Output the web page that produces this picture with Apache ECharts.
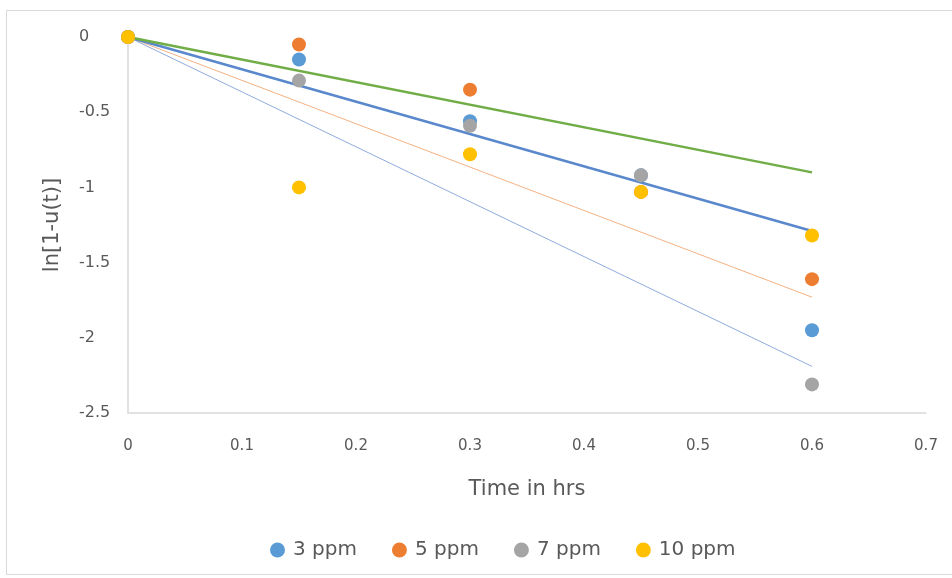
<!DOCTYPE html>
<html>
<head>
<meta charset="utf-8">
<script src="https://cdn.jsdelivr.net/npm/echarts@6/dist/echarts.min.js"></script>
<style>
  html, body { margin: 0; padding: 0; background: #ffffff; }
  #chart { width: 952px; height: 578px; }
</style>
</head>
<body>
<div id="chart"></div>
<script>
// Sampling times (hours)
const times = [0, 0.15, 0.3, 0.45, 0.6];

// ln[1-u(t)] for each concentration
const ppm3 = [0, -0.15, -0.56, -0.92, -1.95];
const ppm5 = [0, -0.05, -0.35, -1.03, -1.61];
const ppm7 = [0, -0.29, -0.59, -0.92, -2.31];
const ppm10 = [0, -1.0, -0.78, -1.03, -1.32];

const seriesNames = ['3 ppm', '5 ppm', '7 ppm', '10 ppm'];

// Linear trend lines through the origin, evaluated at both ends of the time range
const trendX = [0, 0.6];
const trendGreen = [0, -0.90];
const trendBlue = [0, -1.29];
const trendOrange = [0, -1.73];
const trendLightBlue = [0, -2.19];

const xTicks = [0, 0.1, 0.2, 0.3, 0.4, 0.5, 0.6, 0.7];
const yTicks = [-2.5, -2, -1.5, -1, -0.5, 0];

const FONT = '"DejaVu Sans", "Open Sans", sans-serif';
const TEXT = '#595959';

const pairs = (xs, ys) => xs.map((x, i) => [x, ys[i]]);

const markerColors = ['#5B9BD5', '#ED7D31', '#A5A5A5', '#FFC000'];
const markerData = [ppm3, ppm5, ppm7, ppm10];

const scatterSeries = seriesNames.map((name, i) => ({
  name: name,
  type: 'scatter',
  symbol: 'circle',
  symbolSize: 14,
  itemStyle: { color: markerColors[i], opacity: 1 },
  data: pairs(times, markerData[i]),
  z: 3
}));

const trendDefs = [
  { ys: trendLightBlue, color: '#8FAADC', width: 1 },
  { ys: trendOrange, color: '#F4B183', width: 1 },
  { ys: trendBlue, color: '#5A88CC', width: 2.5 },
  { ys: trendGreen, color: '#70AD47', width: 2.5 }
];

const trendSeries = trendDefs.map(d => ({
  type: 'line',
  showSymbol: false,
  silent: true,
  lineStyle: { color: d.color, width: d.width },
  data: pairs(trendX, d.ys),
  z: 2
}));

const chart = echarts.init(document.getElementById('chart'), null, { renderer: 'canvas' });

const tickFormat = v => String(Math.round(v * 10) / 10);

chart.setOption({
  animation: false,
  backgroundColor: '#ffffff',
  textStyle: { fontFamily: FONT },
  graphic: [{
    type: 'rect',
    shape: { x: 6.5, y: 10.5, width: 960, height: 564 },
    style: { fill: 'none', stroke: '#D9D9D9', lineWidth: 1 },
    silent: true,
    z: -10
  }],
  grid: { left: 128, right: 26, top: 37, bottom: 165, containLabel: false },
  legend: {
    data: seriesNames,
    left: 265,
    top: 535,
    icon: 'circle',
    itemWidth: 15,
    itemHeight: 15,
    itemGap: 35,
    textStyle: { color: TEXT, fontSize: 20, fontFamily: FONT, padding: [0, 0, 0, 3] }
  },
  xAxis: {
    type: 'value',
    min: xTicks[0],
    max: xTicks[xTicks.length - 1],
    interval: 0.1,
    name: 'Time in hrs',
    nameLocation: 'middle',
    nameGap: 66,
    nameTextStyle: { color: TEXT, fontSize: 21, fontFamily: FONT },
    axisLine: { onZero: false, lineStyle: { color: '#D9D9D9', width: 1.5 } },
    axisTick: { show: false },
    splitLine: { show: false },
    axisLabel: { color: TEXT, fontSize: 15, fontFamily: FONT, margin: 26, formatter: tickFormat }
  },
  yAxis: {
    type: 'value',
    min: yTicks[0],
    max: yTicks[yTicks.length - 1],
    interval: 0.5,
    name: 'ln[1-u(t)]',
    nameLocation: 'middle',
    nameGap: 65,
    nameTextStyle: { color: TEXT, fontSize: 21, fontFamily: FONT },
    axisLine: { show: true, onZero: false, lineStyle: { color: '#D9D9D9', width: 1.5 } },
    axisTick: { show: false },
    splitLine: { show: false },
    axisLabel: { color: TEXT, fontSize: 16, fontFamily: FONT, margin: 49, align: 'left', formatter: tickFormat }
  },
  series: trendSeries.concat(scatterSeries)
});
</script>
</body>
</html>
